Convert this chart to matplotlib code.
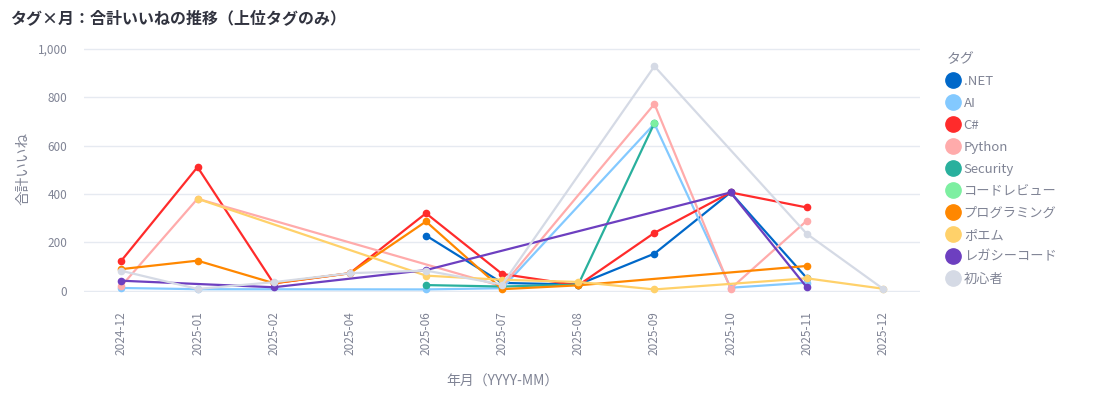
import numpy as np
import matplotlib.pyplot as plt
from matplotlib.lines import Line2D
from matplotlib.ticker import FuncFormatter

plt.rcParams['font.family'] = ['Noto Sans CJK JP', 'DejaVu Sans']

months = ['2024-12', '2025-01', '2025-02', '2025-04', '2025-06', '2025-07',
          '2025-08', '2025-09', '2025-10', '2025-11', '2025-12']
nan = np.nan

tags = ['.NET', 'AI', 'C#', 'Python', 'Security', 'コードレビュー',
        'プログラミング', 'ポエム', 'レガシーコード', '初心者']
colors = ['#0068c9', '#83c9ff', '#ff2b2b', '#ffabab', '#29b09d', '#7defa1',
          '#ff8700', '#ffd16a', '#6d3fc0', '#d5dae5']

dotnet = [nan, nan, nan, nan, 228, 32, 25, 153, 406, 52, nan]
ai = [11, 6, nan, nan, 5, 10, nan, 690, 12, 33, nan]
csharp = [124, 511, 30, 72, 320, 69, 22, 239, 406, 344, nan]
python = [19, 380, nan, nan, nan, 18, nan, 772, 8, 289, nan]
security = [nan, nan, nan, nan, 23, 17, 25, 693, nan, nan, nan]
codereview = [nan, nan, nan, nan, nan, nan, nan, 695, nan, nan, nan]
programming = [89, 124, 31, 72, 286, 6, 22, nan, nan, 102, nan]
poem = [nan, 380, nan, nan, 62, 45, 36, 5, nan, 51, 8]
legacy = [41, nan, 14, nan, 85, nan, nan, nan, 406, 14, nan]
beginner = [82, 7, 35, 72, 83, 25, nan, 928, nan, 235, 8]

series = [dotnet, ai, csharp, python, security, codereview,
          programming, poem, legacy, beginner]

text_col = '#31333f'
grey = '#808495'

fig = plt.figure(figsize=(10.93, 3.93), dpi=100)
ax = fig.add_axes([0.0769, 0.258, 0.765, 0.627])

x = np.arange(len(months))
for name, vals, c in zip(tags, series, colors):
    v = np.array(vals, dtype=float)
    m = ~np.isnan(v)
    ax.plot(x[m], v[m], color=c, lw=1.6, marker='o', ms=4.5,
            label=name, clip_on=False)

ax.set_xlim(-0.49, len(months) - 0.51)
ax.set_ylim(-4, 1015)
ax.set_yticks([0, 200, 400, 600, 800, 1000])
ax.yaxis.set_major_formatter(FuncFormatter(lambda v, p: f'{int(v):,}'))
ax.set_xticks(x)
ax.set_xticklabels(months, rotation=90)
ax.tick_params(axis='x', length=0, pad=14, labelsize=8.5, colors=grey)
ax.tick_params(axis='y', length=0, pad=12, labelsize=8.5, colors=grey)
ax.grid(axis='y', color='#e6eaf1', lw=1)
ax.set_axisbelow(True)
for s in ax.spines.values():
    s.set_visible(False)

ax.set_xlabel('年月（YYYY-MM）', fontsize=10, color=grey, labelpad=14)
ax.set_ylabel('合計いいね', fontsize=10.5, color=grey, labelpad=5)

fig.text(0.009, 0.955, 'タグ×月：合計いいねの推移（上位タグのみ）',
         fontsize=11.5, fontweight='bold', color=text_col, va='center')

handles = [Line2D([], [], ls='', marker='o', ms=11, color=c) for c in colors]
leg = fig.legend(handles, tags, loc='upper left', bbox_to_anchor=(0.866, 0.868),
                 frameon=False, title='タグ', fontsize=9.5, title_fontsize=10,
                 labelspacing=0.68, handletextpad=0.3, handlelength=1.0,
                 borderaxespad=0, borderpad=0)
leg._legend_box.align = 'left'
plt.setp(leg.get_texts(), color=grey)
leg.get_title().set_color(grey)

fig.savefig('out.png', dpi=100)
